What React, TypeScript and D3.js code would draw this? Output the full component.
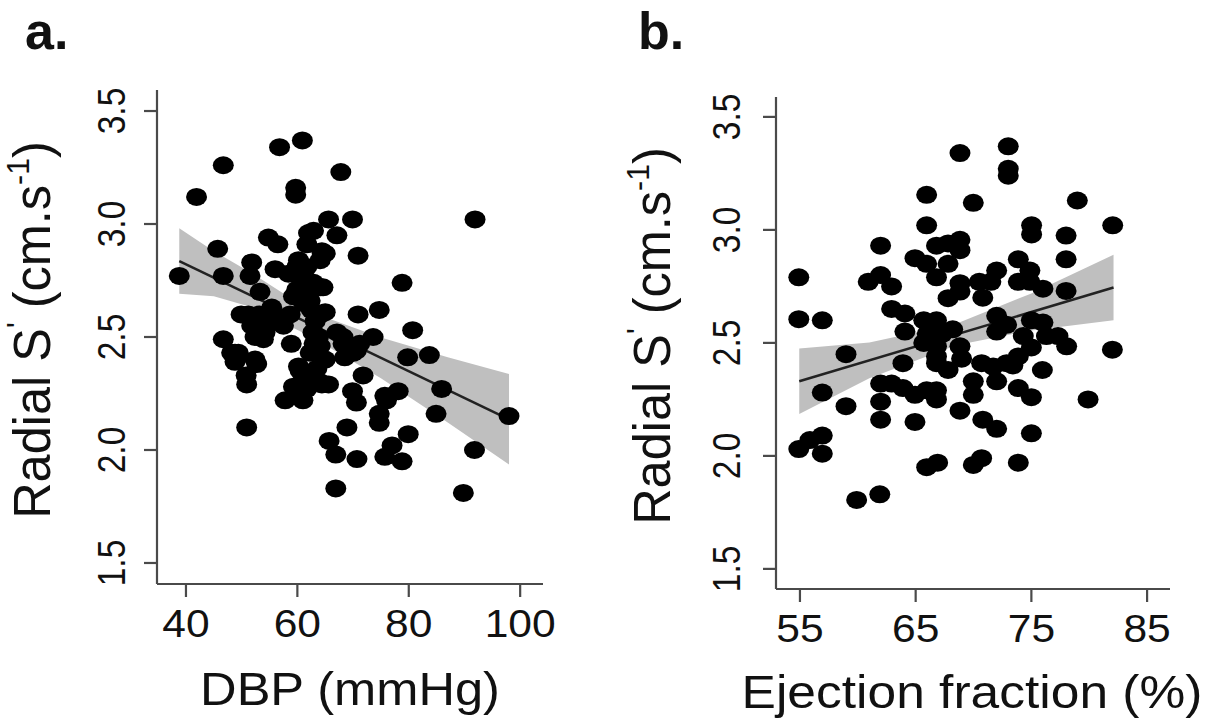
import React from "react";
import * as d3 from "d3";

// ---------- Data ----------
const dbpX = [38.8,41.9,46.7,56.8,60.9,67.8,59.7,59.7,45.7,46.7,91.9,69.9,70.9,78.8,74.7,70.9,73.6,80.7,79.8,83.7,85.9,84.9,98.0,91.8,89.8,66.9,50.9,46.7,58.9,68.9,65.7,66.9,70.7,75.7,77.0,78.8,79.9,74.7,74.7,76.0,78.1,70.6,69.9,71.8,50.9,50.8,48.8,52.7,57.8,59.3,61.7,65.6,60.5,54.8,56.5,51.8,51.5,53.3,56.0,58.4,60.2,62.0,65.6,64.4,64.6,60.8,61.4,51.2,54.2,55.4,51.8,54.2,49.4,52.4,60.2,62.5,63.2,62.8,63.0,64.2,63.8,62.3,48.8,60.2,61.4,64.4,67.1,65.0,65.0,68.2,70.0,64.1,67.1,68.2,68.5,70.6,71.2,75.7,64.1,62.9,61.7,64.1,59.9,49.9,53.2,55.6,52.4,48.2,59.3,64.1,65.0,63.5,61.0,61.7,62.9,59.9,61.1,54.5,53.9,62.3,62.3,58.7,57.5];
const dbpS = [2.77,3.12,3.26,3.34,3.37,3.23,3.16,3.13,2.89,2.77,3.02,3.02,2.86,2.74,2.62,2.60,2.50,2.53,2.41,2.42,2.27,2.16,2.15,2.00,1.81,1.83,2.10,2.49,2.47,2.10,2.04,1.98,1.96,1.97,2.02,1.95,2.07,2.16,2.12,2.22,2.26,2.21,2.26,2.33,2.29,2.33,2.43,2.38,2.22,2.28,2.27,2.29,2.35,2.94,2.91,2.83,2.77,2.70,2.80,2.78,2.84,2.96,3.02,2.88,2.72,2.75,2.68,2.60,2.59,2.63,2.55,2.52,2.43,2.40,2.37,2.62,2.57,2.52,2.47,2.60,2.50,2.66,2.39,2.25,2.32,2.29,2.95,2.87,2.61,2.50,2.43,2.46,2.52,2.47,2.41,2.44,2.47,2.24,2.30,2.97,2.91,2.84,2.81,2.60,2.60,2.60,2.50,2.43,2.68,2.72,2.40,2.36,2.22,2.81,2.74,2.71,2.65,2.55,2.49,2.43,2.32,2.60,2.55];

const efX = [68.83,73.0,73.0,73.0,65.95,69.98,78.97,82.03,65.95,75.02,75.02,78.0,78.0,78.0,61.97,54.9,54.9,56.93,58.98,56.93,58.98,54.9,55.86,56.93,56.93,59.9,61.9,60.9,61.97,62.92,62.92,64.07,64.07,63.9,61.97,62.92,61.97,61.97,63.9,64.94,64.94,64.94,65.95,66.8,67.8,68.83,68.83,66.8,67.8,68.83,68.83,67.8,65.7,66.8,66.0,67.3,68.2,65.7,66.8,66.8,66.8,67.8,68.83,68.97,69.98,69.98,68.83,66.8,66.8,65.95,70.5,70.8,72.0,71.5,72.0,72.0,72.86,70.7,71.7,72.86,72.0,73.87,73.87,74.87,74.87,76.0,75.0,76.0,74.3,75.0,76.3,77.3,78.05,82.0,75.95,73.87,73.4,73.87,75.0,79.9,75.0,70.8,72.0,65.95,66.9,69.98,70.7,73.87];
const efS = [3.34,3.37,3.27,3.24,3.155,3.12,3.13,3.02,3.02,3.02,2.98,2.975,2.87,2.73,2.93,2.79,2.605,2.60,2.45,2.28,2.22,2.03,2.07,2.09,2.01,1.805,1.83,2.77,2.80,2.75,2.65,2.63,2.55,2.41,2.32,2.32,2.24,2.16,2.30,2.27,2.15,2.875,2.85,2.93,2.94,2.956,2.91,2.79,2.85,2.764,2.727,2.698,2.60,2.60,2.54,2.54,2.56,2.50,2.485,2.44,2.41,2.38,2.485,2.43,2.33,2.27,2.20,2.25,2.29,2.29,2.77,2.70,2.82,2.77,2.62,2.55,2.58,2.41,2.395,2.41,2.33,2.87,2.77,2.82,2.77,2.74,2.60,2.59,2.53,2.48,2.53,2.53,2.485,2.47,2.38,2.44,2.40,2.30,2.26,2.25,2.10,2.16,2.12,1.95,1.97,1.96,1.99,1.97];

// fitted lines and confidence bands
const fitAX = [38.8, 98.0];
const fitAY = [2.836, 2.136];
const bandAX = [38.8, 45, 52, 63, 75, 87, 98];
const bandALo = [2.691, 2.680, 2.630, 2.495, 2.318, 2.122, 1.936];
const bandAHi = [2.981, 2.880, 2.780, 2.605, 2.498, 2.410, 2.336];

const fitBX = [54.94, 82.1];
const fitBY = [2.33, 2.7453];
const bandBX = [54.94, 61, 68.5, 75, 82.1];
const bandBLo = [2.185, 2.344, 2.490, 2.555, 2.600];
const bandBHi = [2.475, 2.502, 2.585, 2.719, 2.890];

const yTicks = [1.5, 2.0, 2.5, 3.0, 3.5];
const xTicksA = [40, 60, 80, 100];
const xTicksB = [55, 65, 75, 85];

const FONT = "'Liberation Sans', Arial, Helvetica, sans-serif";
const INK = "#111";

function SText({ x, y, size, sx = 1, rot = 0, anchor = "middle", weight = 400, children }: any) {
  return (
    <g transform={`translate(${x},${y}) rotate(${rot}) scale(${sx},1)`}>
      <text textAnchor={anchor} fontSize={size} fontWeight={weight} fontFamily={FONT} fill={INK}>
        {children}
      </text>
    </g>
  );
}

function YTitle({ x, y }: { x: number; y: number }) {
  const s = 51;
  const sup = s * 0.6;
  const up = s * 0.42;
  return (
    <SText x={x} y={y} size={s} sx={0.99} rot={-90}>
      Radial S
      <tspan fontSize={sup} dy={-up}>'</tspan>
      <tspan dy={up}> (cm.s</tspan>
      <tspan fontSize={sup} dy={-up}>-1</tspan>
      <tspan dy={up}>)</tspan>
    </SText>
  );
}

function Panel({ xs, ys, xDom, yDom, xRange, yRange, xTicks, fitX, fitY, bandX, bandLo, bandHi, xTitle, xTitleX, xTitleSx, tickBase, titleBase, yLabelX, yTitleX, yTitleY, label, labelX }: any) {
  const x = d3.scaleLinear().domain(xDom).range(xRange);
  const y = d3.scaleLinear().domain(yDom).range(yRange);
  const area = d3.area<number>().x((d) => x(d)).y0((_, i) => y(bandLo[i])).y1((_, i) => y(bandHi[i]));
  const line = d3.line<number>().x((d) => x(d)).y((_, i) => y(fitY[i]));
  const x0 = xRange[0], x1 = xRange[1], yb = yRange[0], yt = yRange[1];
  const axisCol = "#4a4a4a";
  return (
    <g>
      <path d={area(bandX) || ""} fill="#bfbfbf" />
      <path d={line(fitX) || ""} fill="none" stroke="#222" strokeWidth={2.5} />
      {xs.map((v: number, i: number) => (
        <ellipse key={i} cx={x(v)} cy={y(ys[i])} rx={10.5} ry={9} fill="#000" />
      ))}
      <line x1={x0} x2={x0} y1={yt} y2={yb} stroke={axisCol} strokeWidth={2.2} />
      <line x1={x0} x2={x1} y1={yb} y2={yb} stroke={axisCol} strokeWidth={2.2} />
      {yTicks.map((t) => (
        <g key={t}>
          <line x1={x0 - 13} x2={x0} y1={y(t)} y2={y(t)} stroke={axisCol} strokeWidth={2.2} />
          <SText x={yLabelX} y={y(t)} size={39} sx={0.86} rot={-90}>{t.toFixed(1)}</SText>
        </g>
      ))}
      {xTicks.map((t: number) => (
        <g key={t}>
          <line x1={x(t)} x2={x(t)} y1={yb} y2={yb + 13} stroke={axisCol} strokeWidth={2.2} />
          <SText x={x(t)} y={tickBase} size={38} sx={1.12}>{String(t)}</SText>
        </g>
      ))}
      <SText x={xTitleX} y={titleBase} size={46} sx={xTitleSx}>{xTitle}</SText>
      <YTitle x={yTitleX} y={yTitleY} />
      <SText x={labelX} y={49} size={52} weight={700} anchor="start">{label}</SText>
    </g>
  );
}

export default function App() {
  return (
    <svg width={1217} height={719} style={{ display: "block", position: "absolute", left: 0, top: 0, background: "#fff" }}>
      <rect width={1217} height={719} fill="#fff" />
      <Panel
        xs={dbpX} ys={dbpS}
        xDom={[34.8, 104.1]} yDom={[1.407, 3.593]}
        xRange={[157, 543]} yRange={[584, 90]}
        xTicks={xTicksA}
        fitX={fitAX} fitY={fitAY}
        bandX={bandAX} bandLo={bandALo} bandHi={bandAHi}
        xTitle="DBP (mmHg)" xTitleX={350} xTitleSx={1.1}
        tickBase={637} titleBase={705}
        yLabelX={125} yTitleX={50} yTitleY={330}
        label="a." labelX={25}
      />
      <Panel
        xs={efX} ys={efS}
        xDom={[52.93, 86.98]} yDom={[1.411, 3.588]}
        xRange={[776, 1170]} yRange={[589, 97]}
        xTicks={xTicksB}
        fitX={fitBX} fitY={fitBY}
        bandX={bandBX} bandLo={bandBLo} bandHi={bandBHi}
        xTitle="Ejection fraction (%)" xTitleX={972} xTitleSx={1.12}
        tickBase={642} titleBase={708}
        yLabelX={740} yTitleX={670} yTitleY={336}
        label="b." labelX={638}
      />
    </svg>
  );
}
